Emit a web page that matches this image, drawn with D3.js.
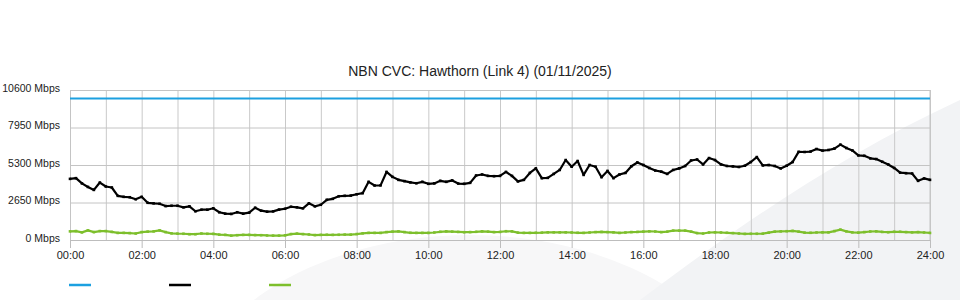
<!DOCTYPE html>
<html>
<head>
<meta charset="utf-8">
<script src="https://cdn.jsdelivr.net/npm/d3@7"></script>
<style>
  body { margin: 0; background: #fff; }
  #chart { width: 960px; height: 300px; }
  text { font-family: "Liberation Sans", Arial, sans-serif; }
</style>
</head>
<body>
<div id="chart"></div>
<script>
// chart values, one sample every 10 minutes from 00:00 to 24:00
var title = "NBN CVC: Hawthorn (Link 4) (01/11/2025)";
var stepMinutes = 10;
var yTicks = [0, 2650, 5300, 7950, 10600];
var xTicks = [0, 2, 4, 6, 8, 10, 12, 14, 16, 18, 20, 22, 24];

var capacity = [10000, 10000]; // flat CVC capacity, start and end of day
var download = [
	4320, 4370, 4000, 3750, 3540, 4060, 3780, 3710, 3120, 3050, 3020, 2880, 3050,
	2630, 2590, 2560, 2400, 2420, 2420, 2310, 2380, 2030, 2140, 2140, 2240,
	1960, 1860, 1840, 1960, 1860, 1930, 2280, 2070, 2000, 2020, 2150, 2210,
	2350, 2310, 2240, 2590, 2380, 2490, 2840, 2910, 3090, 3120, 3140, 3230,
	3310, 4110, 3850, 3860, 4810, 4460, 4250, 4160, 4070, 4010, 4110, 3970,
	4000, 4180, 4110, 4210, 3990, 3970, 4040, 4560, 4630, 4530, 4510, 4530,
	4810, 4530, 4140, 4250, 4740, 5060, 4370, 4390, 4670, 4950, 5650, 5180,
	5580, 4600, 5300, 5180, 4440, 4880, 4370, 4630, 4740, 5210, 5480, 5300,
	5090, 4910, 4830, 4670, 4950, 5060, 5230, 5620, 5690, 5340, 5790, 5650,
	5340, 5230, 5200, 5160, 5250, 5510, 5860, 5270, 5300, 5230, 5060, 5250,
	5510, 6230, 6220, 6250, 6430, 6320, 6360, 6460, 6740, 6500, 6330, 5980,
	5950, 5770, 5720, 5530, 5340, 5090, 4760, 4720, 4700, 4180, 4350, 4250
];
var upload = [
	610, 630, 540, 680, 560, 630, 630, 570, 500, 500, 490, 460, 560,
	590, 610, 680, 560, 470, 450, 440, 410, 410, 460, 440, 430,
	380, 360, 310, 340, 360, 360, 350, 340, 320, 310, 310, 330,
	420, 450, 420, 390, 350, 360, 370, 360, 370, 380, 380, 420,
	470, 500, 500, 500, 560, 590, 610, 560, 510, 500, 500, 500,
	530, 580, 610, 590, 570, 550, 560, 580, 610, 590, 560, 570,
	620, 610, 520, 500, 500, 510, 520, 540, 540, 540, 540, 530,
	510, 500, 530, 560, 570, 560, 540, 500, 530, 560, 570, 590,
	610, 600, 560, 590, 660, 660, 660, 590, 490, 460, 530, 540,
	530, 510, 490, 460, 430, 440, 440, 450, 520, 590, 610, 620,
	640, 590, 520, 510, 530, 540, 540, 630, 730, 610, 540, 520,
	560, 600, 610, 570, 550, 580, 580, 560, 540, 560, 530, 500
];

var legendColors = ["#1ca0e0", "#000000", "#7dbf2c"];

var width = 960;
var height = 300;
var margin = { left: 70, right: 30, top: 90, bottom: 60 };

function hourOf(i) {
	return i * stepMinutes / 60;
}

function drawPlot() {
	var svg = d3.select("#chart")
			.append("svg")
			.attr("width", width)
			.attr("height", height);

	// light background swooshes
	var bg = svg.append("g");
	bg.append("ellipse")
		.attr("cx", 470)
		.attr("cy", 430)
		.attr("rx", 290)
		.attr("ry", 195)
		.attr("fill", "#f7f7f8");
	bg.append("path")
		.attr("d", "M640,300 C720,240 830,160 960,100 L960,300 Z")
		.attr("fill", "#f2f3f5");

	var xScale = d3.scaleLinear()
			.domain([0, 24])
			.range([margin.left, width - margin.right]);
	var yScale = d3.scaleLinear()
			.domain([0, 10600])
			.range([height - margin.bottom, margin.top]);

	// title
	svg.append("text")
		.attr("x", 480)
		.attr("y", 76)
		.attr("text-anchor", "middle")
		.attr("font-size", 14)
		.attr("fill", "#222")
		.text(title);

	// vertical grid, every hour
	var xGrid = svg.append("g")
			.attr("class", "x grid")
			.attr("transform", "translate(0," + (height - margin.bottom) + ")")
			.call(d3.axisBottom(xScale)
				.tickValues(d3.range(0, 25))
				.tickSize(-(height - margin.top - margin.bottom))
				.tickFormat(""));
	xGrid.select(".domain").remove();
	xGrid.selectAll("line").attr("stroke", "#c9c9c9");

	// horizontal grid
	var yGrid = svg.append("g")
			.attr("class", "y grid")
			.attr("transform", "translate(" + margin.left + ",0)")
			.call(d3.axisLeft(yScale)
				.tickValues(yTicks)
				.tickSize(-(width - margin.left - margin.right))
				.tickFormat(""));
	yGrid.select(".domain").remove();
	yGrid.selectAll("line").attr("stroke", "#c4c4c4");

	// left axis with labels
	var yAxis = svg.append("g")
			.attr("class", "y axis")
			.attr("transform", "translate(" + margin.left + ",0)")
			.call(d3.axisLeft(yScale)
				.tickValues(yTicks)
				.tickSize(0)
				.tickPadding(10)
				.tickFormat(function(d) { return d + " Mbps"; }));
	yAxis.select(".domain").attr("stroke", "#c4c4c4");
	yAxis.selectAll("text")
		.attr("font-size", 10.5)
		.attr("fill", "#222")
		.attr("dy", "0.1em")
		.attr("font-family", "Liberation Sans, Arial, sans-serif");

	// bottom axis with labels
	var xAxis = svg.append("g")
			.attr("class", "x axis")
			.attr("transform", "translate(0," + (height - margin.bottom) + ")")
			.call(d3.axisBottom(xScale)
				.tickValues(xTicks)
				.tickSize(8)
				.tickPadding(3)
				.tickFormat(function(d) { return d3.format("02d")(d) + ":00"; }));
	xAxis.select(".domain").attr("stroke", "#bdbdbd");
	xAxis.selectAll("line").attr("stroke", "#bdbdbd");
	xAxis.selectAll("text").attr("font-size", 11).attr("fill", "#222")
		.attr("font-family", "Liberation Sans, Arial, sans-serif");

	// right border
	svg.append("line")
		.attr("x1", xScale(24)).attr("x2", xScale(24))
		.attr("y1", yScale(0)).attr("y2", yScale(10600))
		.attr("stroke", "#c4c4c4");

	var line = d3.line()
			.x(function(d, i) { return xScale(hourOf(i)); })
			.y(function(d) { return yScale(d); });

	// capacity
	svg.append("path")
		.datum(capacity)
		.attr("fill", "none")
		.attr("stroke", legendColors[0])
		.attr("stroke-width", 2.2)
		.attr("d", d3.line()
			.x(function(d, i) { return xScale(i * 24); })
			.y(function(d) { return yScale(d); }));

	var series = [
		{ values: upload, color: legendColors[2] },
		{ values: download, color: legendColors[1] }
	];

	series.forEach(function(s) {
		svg.append("path")
			.datum(s.values)
			.attr("fill", "none")
			.attr("stroke", s.color)
			.attr("stroke-width", 2.2)
			.attr("stroke-linejoin", "round")
			.attr("d", line);

		svg.append("g")
			.selectAll("rect")
			.data(s.values)
			.enter()
			.append("rect")
			.attr("x", function(d, i) { return xScale(hourOf(i)) - 1.3; })
			.attr("y", function(d) { return yScale(d) - 1.3; })
			.attr("width", 2.6)
			.attr("height", 2.6)
			.attr("fill", s.color);
	});

	// legend (no labels in the original)
	svg.append("g")
		.selectAll("line")
		.data(legendColors)
		.enter()
		.append("line")
		.attr("x1", function(d, i) { return 69 + i * 100; })
		.attr("x2", function(d, i) { return 91 + i * 100; })
		.attr("y1", 285)
		.attr("y2", 285)
		.attr("stroke", function(d) { return d; })
		.attr("stroke-width", 2.5);
}

drawPlot();
</script>
</body>
</html>
